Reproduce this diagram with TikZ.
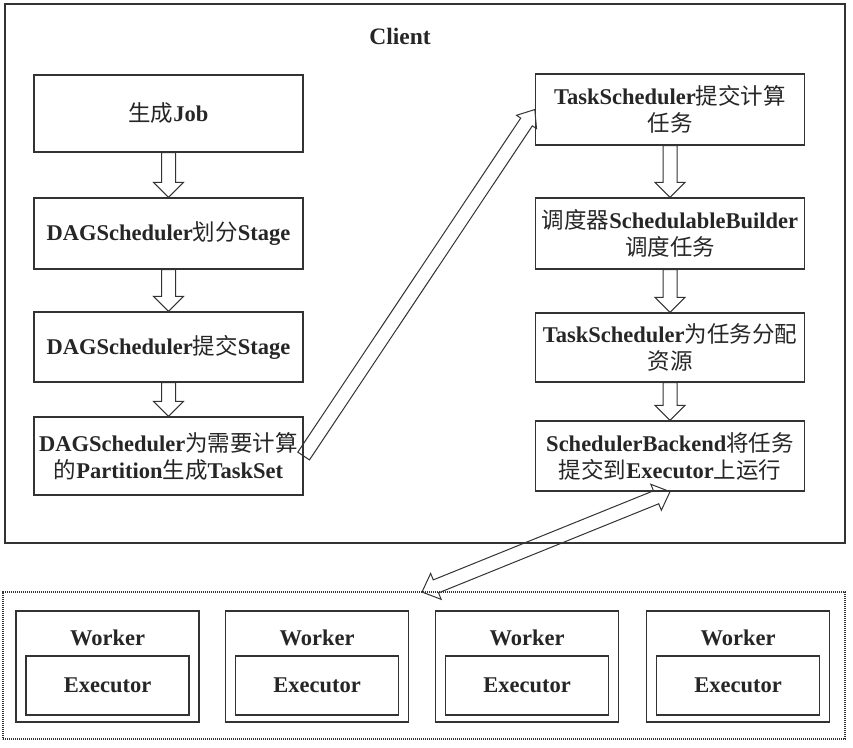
\documentclass[tikz,border=0pt]{standalone}
\usepackage{fontspec}
\setmainfont{Liberation Serif}
\newfontfamily\cjk{Noto Sans CJK SC}
\usetikzlibrary{calc}
\newcommand\zh[1]{{\cjk\mdseries #1}}
% single hollow arrow: from #1 to #2, shaft half width #3, head half width #4, head length #5
\newcommand\hollowarrow[5]{%
  \coordinate (ha) at (#1);
  \coordinate (hb) at (#2);
  \coordinate (hh) at ($(hb)!#5!(ha)$);
  \draw[arrowline] ($(ha)!#3!90:(hb)$) -- ($(hh)!#3!-90:(ha)$) -- ($(hh)!#4!-90:(ha)$) -- (hb)
     -- ($(hh)!#4!90:(ha)$) -- ($(hh)!#3!90:(ha)$) -- ($(ha)!#3!-90:(hb)$) -- cycle;
}
% double hollow arrow between #1 and #2
\newcommand\doublehollow[5]{%
  \coordinate (da) at (#1);
  \coordinate (db) at (#2);
  \coordinate (dha) at ($(da)!#5!(db)$);
  \coordinate (dhb) at ($(db)!#5!(da)$);
  \draw[arrowline] (da) -- ($(dha)!#4!90:(db)$) -- ($(dha)!#3!90:(db)$) -- ($(dhb)!#3!-90:(da)$)
     -- ($(dhb)!#4!-90:(da)$) -- (db) -- ($(dhb)!#4!90:(da)$) -- ($(dhb)!#3!90:(da)$)
     -- ($(dha)!#3!-90:(db)$) -- ($(dha)!#4!-90:(db)$) -- cycle;
}
\begin{document}
\begin{tikzpicture}[x=1pt,y=-1pt,
  frame/.style={draw=black!80, line width=1.3pt},
  arrowline/.style={draw=black!80, line width=1pt, line join=miter},
  txt/.style={font=\fontsize{22.5}{27}\selectfont\bfseries, text=black!85, align=center},
  stepbox/.style={frame, txt, minimum width=269pt, inner sep=0pt},
  workerbox/.style={frame, minimum width=183pt, minimum height=111pt, inner sep=0pt},
  execbox/.style={frame, txt, minimum width=163pt, minimum height=59pt, inner sep=0pt},
  cluster/.style={draw=black!80, line width=1.2pt, dash pattern=on 1.2pt off 0.8pt}
]
\useasboundingbox (0,0) rectangle (853,747);

% Client frame
\draw[frame] (5,4) rectangle (845,543);
\node[txt, font=\fontsize{23.5}{27}\selectfont\bfseries] (client) at (400,36) {Client};

% left column
\node[stepbox, minimum height=77pt] (b1) at (168.5,113.5) {\zh{生成}Job};
\node[stepbox, minimum height=71pt] (b2) at (168.5,233.5) {DAGScheduler\zh{划分}Stage};
\node[stepbox, minimum height=70pt] (b3) at (168.5,347) {DAGScheduler\zh{提交}Stage};
\node[stepbox, minimum height=78pt] (b4) at (168.5,456) {DAGScheduler\zh{为需要计算}\\\zh{的}Partition\zh{生成}TaskSet};

% right column
\node[stepbox, minimum height=71pt] (r1) at (670,109.5) {TaskScheduler\zh{提交计算}\\\zh{任务}};
\node[stepbox, minimum height=71pt] (r2) at (670,233.5) {\zh{调度器}SchedulableBuilder\\\zh{调度任务}};
\node[stepbox, minimum height=69pt] (r3) at (670,347.5) {TaskScheduler\zh{为任务分配}\\\zh{资源}};
\node[stepbox, minimum height=70pt] (r4) at (670,456) {SchedulerBackend\zh{将任务}\\\zh{提交到}Executor\zh{上运行}};

% vertical hollow arrows
\hollowarrow{b1.south}{b2.north}{7pt}{15pt}{15pt}
\hollowarrow{b2.south}{b3.north}{7pt}{15pt}{15pt}
\hollowarrow{b3.south}{b4.north}{7pt}{15pt}{15pt}
\hollowarrow{r1.south}{r2.north}{7pt}{15pt}{15pt}
\hollowarrow{r2.south}{r3.north}{7pt}{15pt}{15pt}
\hollowarrow{r3.south}{r4.north}{7pt}{15pt}{15pt}

% diagonal arrow
\hollowarrow{b4.east}{r1.west}{7pt}{12pt}{15pt}

% workers cluster
\node[cluster, minimum width=842pt, minimum height=147pt, inner sep=0pt] (workers) at (424,665.5) {};
\coordinate (wtop) at (422,592);
\doublehollow{wtop}{r4.south}{7pt}{14pt}{15pt}

\foreach \i/\cx in {1/107.5, 2/317, 3/527, 4/738}{
  \node[workerbox] (w\i) at (\cx,666.5) {};
  \node[txt] (wl\i) at (\cx,638) {Worker};
  \node[execbox] (e\i) at (\cx,685.5) {Executor};
}
\end{tikzpicture}
\end{document}
